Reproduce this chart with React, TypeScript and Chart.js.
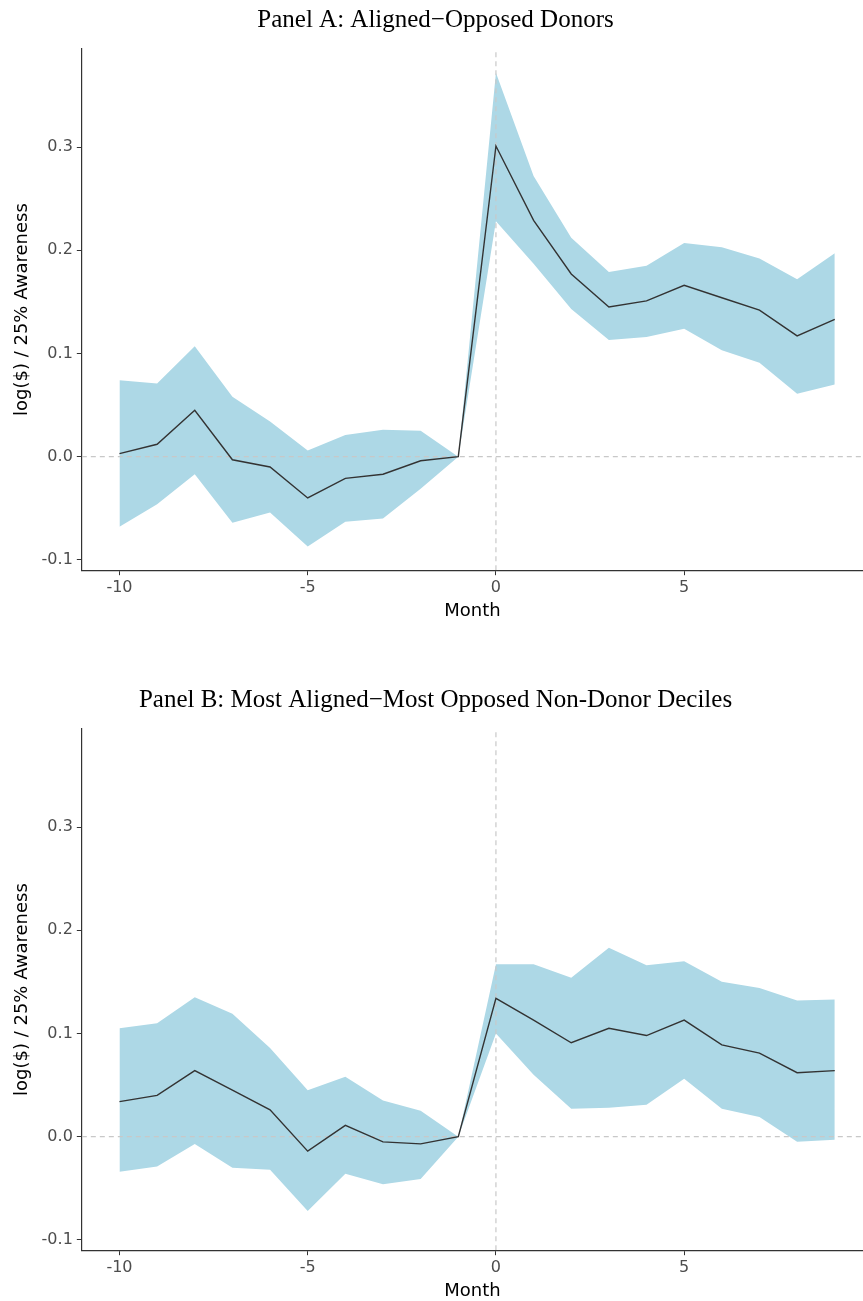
import { useEffect, useRef } from 'react';
import { Chart, registerables } from 'chart.js';

Chart.register(...registerables);

const months = [-10, -9, -8, -7, -6, -5, -4, -3, -2, -1, 0, 1, 2, 3, 4, 5, 6, 7, 8, 9];

const aEstimate = [0.003, 0.012, 0.045, -0.003, -0.01, -0.04, -0.021, -0.017, -0.004, 0, 0.301, 0.229, 0.177, 0.145, 0.151, 0.166, 0.154, 0.142, 0.117, 0.133];
const aUpper = [0.074, 0.071, 0.107, 0.058, 0.034, 0.006, 0.021, 0.026, 0.025, 0, 0.372, 0.272, 0.212, 0.179, 0.185, 0.207, 0.203, 0.192, 0.172, 0.197];
const aLower = [-0.068, -0.046, -0.017, -0.064, -0.054, -0.087, -0.063, -0.06, -0.031, 0, 0.228, 0.187, 0.143, 0.113, 0.116, 0.124, 0.103, 0.091, 0.061, 0.07];

const bEstimate = [0.034, 0.04, 0.064, 0.045, 0.026, -0.014, 0.011, -0.005, -0.007, 0, 0.134, 0.113, 0.091, 0.105, 0.098, 0.113, 0.089, 0.081, 0.062, 0.064];
const bUpper = [0.105, 0.11, 0.135, 0.119, 0.086, 0.045, 0.058, 0.035, 0.025, 0, 0.167, 0.167, 0.154, 0.183, 0.166, 0.17, 0.15, 0.144, 0.132, 0.133];
const bLower = [-0.034, -0.029, -0.007, -0.03, -0.032, -0.072, -0.036, -0.046, -0.041, 0, 0.1, 0.06, 0.027, 0.028, 0.031, 0.056, 0.027, 0.019, -0.005, -0.003];

const yTicks = [-0.1, 0, 0.1, 0.2, 0.3];
const xTicks = [-10, -5, 0, 5];

const Y_MIN = -0.11;
const Y_MAX = 0.395;
const X_MIN = -11;
const X_MAX = 9.75;

function Panel({ title, est, lo, hi }: { title: string; est: number[]; lo: number[]; hi: number[] }) {
  const ref = useRef<HTMLCanvasElement>(null);

  useEffect(() => {
    if (!ref.current) return;
    const pts = (arr: number[]) => months.map((m, i) => ({ x: m, y: arr[i] }));
    const chart = new Chart(ref.current, {
      type: 'line',
      data: {
        datasets: [
          { data: pts(lo), borderWidth: 0, pointRadius: 0, fill: false, backgroundColor: '#add8e6', order: 4 },
          { data: pts(hi), borderWidth: 0, pointRadius: 0, fill: '-1', backgroundColor: '#add8e6', order: 3 },
          { data: [{ x: X_MIN, y: 0 }, { x: X_MAX, y: 0 }], borderColor: '#c8c8c8', borderWidth: 1.2, borderDash: [5, 4], pointRadius: 0, order: 2 },
          { data: [{ x: 0, y: Y_MIN }, { x: 0, y: Y_MAX }], borderColor: '#c8c8c8', borderWidth: 1.2, borderDash: [5, 4], pointRadius: 0, order: 1 },
          { data: pts(est), borderColor: '#333333', borderWidth: 1.4, pointRadius: 0, fill: false, order: 0 },
        ],
      },
      options: {
        animation: false,
        responsive: false,
        layout: { padding: { top: 0, right: 0, left: 8, bottom: 14 } },
        plugins: {
          legend: { display: false },
          tooltip: { enabled: false },
          title: {
            display: true,
            text: title,
            color: '#000',
            font: { family: 'Liberation Serif', size: 25, weight: 'normal' },
            padding: { top: 5, bottom: 14 },
          },
        },
        scales: {
          x: {
            type: 'linear',
            min: X_MIN,
            max: X_MAX,
            afterBuildTicks: (s: any) => { s.ticks = xTicks.map((v) => ({ value: v })); },
            ticks: { color: '#4d4d4d', font: { family: 'DejaVu Sans', size: 16 }, padding: 3 },
            grid: { drawOnChartArea: false, drawTicks: true, tickLength: 5, color: '#333' },
            border: { display: true, color: '#333', width: 1.2 },
            title: { display: true, text: 'Month', color: '#000', font: { family: 'DejaVu Sans', size: 18 }, padding: { top: 0 } },
          },
          y: {
            min: Y_MIN,
            max: Y_MAX,
            afterBuildTicks: (s: any) => { s.ticks = yTicks.map((v) => ({ value: v })); },
            ticks: { color: '#4d4d4d', font: { family: 'DejaVu Sans', size: 16 }, padding: 4, callback: (v: any) => Number(v).toFixed(1) },
            grid: { drawOnChartArea: false, drawTicks: true, tickLength: 5, color: '#333' },
            border: { display: true, color: '#333', width: 1.2 },
            title: { display: true, text: 'log($) / 25% Awareness', color: '#000', font: { family: 'DejaVu Sans', size: 18 }, padding: { bottom: 4 } },
          },
        },
      },
    });
    return () => chart.destroy();
  }, []);

  return <canvas ref={ref} width={863} height={640} style={{ display: 'block', width: 863, height: 640 }} />;
}

export default function App() {
  return (
    <div style={{ position: 'absolute', left: 0, top: 0, width: 863, height: 1301, background: '#fff' }}>
      <div style={{ position: 'absolute', left: 0, top: 0 }}>
        <Panel title="Panel A: Aligned−Opposed Donors" est={aEstimate} lo={aLower} hi={aUpper} />
      </div>
      <div style={{ position: 'absolute', left: 0, top: 680 }}>
        <Panel title="Panel B: Most Aligned−Most Opposed Non-Donor Deciles" est={bEstimate} lo={bLower} hi={bUpper} />
      </div>
    </div>
  );
}
